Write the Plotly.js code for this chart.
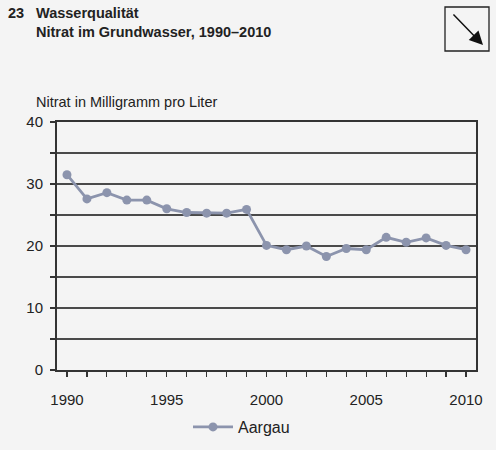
<!DOCTYPE html>
<html>
<head>
<meta charset="utf-8">
<script src="https://cdn.plot.ly/plotly-3.0.1.min.js"></script>
<style>
html,body{margin:0;padding:0;background:#f4f4f4;}
#chart{width:496px;height:450px;}
</style>
</head>
<body>
<div id="chart"></div>
<script>
const years = [1990,1991,1992,1993,1994,1995,1996,1997,1998,1999,2000,2001,2002,2003,2004,2005,2006,2007,2008,2009,2010];
const aargau = [31.5,27.6,28.6,27.4,27.4,26.0,25.4,25.3,25.3,25.9,20.1,19.4,20.0,18.3,19.6,19.4,21.4,20.6,21.3,20.1,19.4];
const seriesName = 'Aargau';
const xTickVals = years;
const xTickText = years.map(y => (y % 5 === 0 ? String(y) : ''));
const yTickVals = [0,5,10,15,20,25,30,35,40];
const yTickText = ['0','','10','','20','','30','','40'];
const titleNumber = '23';
const titleLine1 = 'Wasserqualität';
const titleLine2 = 'Nitrat im Grundwasser, 1990–2010';
const yAxisLabel = 'Nitrat in Milligramm pro Liter';

const W = 496, H = 450;
const L = 57, R = 20, T = 122, B = 80;
const pw = W - L - R, ph = H - T - B;
const px = x => (x - L) / pw;
const py = y => (H - B - y) / ph;

const lineColor = '#8c94ad';
const font = 'Liberation Sans, Arial, Helvetica, sans-serif';

const trace = {
  x: years, y: aargau, name: seriesName,
  type: 'scatter', mode: 'lines+markers',
  line: {color: lineColor, width: 2.8},
  marker: {color: lineColor, size: 9}
};

const layout = {
  width: W, height: H,
  margin: {l: L, r: R, t: T, b: B, pad: 0, autoexpand: false},
  paper_bgcolor: '#f4f4f4', plot_bgcolor: '#f4f4f4',
  font: {family: font, color: '#222', size: 14},
  showlegend: true,
  legend: {orientation: 'h', x: px(188), xanchor: 'left', y: py(427), yanchor: 'middle',
           itemwidth: 40,
           font: {size: 16, color: '#222'}, bgcolor: 'rgba(0,0,0,0)'},
  xaxis: {
    range: [1989.5, 2010.5], tickvals: xTickVals, ticktext: xTickText,
    ticks: 'outside', ticklen: 5, tickcolor: '#333', tickwidth: 1.2,
    showline: true, linecolor: '#333', linewidth: 2, mirror: true,
    showgrid: false, zeroline: false, ticklabelstandoff: 10,
    tickfont: {size: 15, color: '#222'}
  },
  yaxis: {
    range: [0, 40], tickvals: yTickVals, ticktext: yTickText,
    ticks: 'outside', ticklen: 5, tickcolor: '#333', tickwidth: 1.2,
    showline: true, linecolor: '#333', linewidth: 2, mirror: true,
    showgrid: true, gridcolor: '#4a4a4a', gridwidth: 1.6, zeroline: false,
    ticklabelstandoff: 4,
    tickfont: {size: 15, color: '#222'}
  },
  annotations: [
    {xref: 'paper', yref: 'paper', x: px(6), y: py(13), xanchor: 'left', yanchor: 'middle',
     text: '<b>' + titleNumber + '</b>', showarrow: false, font: {size: 14.5, color: '#222'}},
    {xref: 'paper', yref: 'paper', x: px(34), y: py(13), xanchor: 'left', yanchor: 'middle',
     text: '<b>' + titleLine1 + '</b>', showarrow: false, font: {size: 14.5, color: '#222'}},
    {xref: 'paper', yref: 'paper', x: px(34), y: py(32), xanchor: 'left', yanchor: 'middle',
     text: '<b>' + titleLine2 + '</b>', showarrow: false, font: {size: 14.5, color: '#222'}},
    {xref: 'paper', yref: 'paper', x: px(34), y: py(102), xanchor: 'left', yanchor: 'middle',
     text: yAxisLabel, showarrow: false, font: {size: 14.5, color: '#222'}},
    {xref: 'paper', yref: 'paper', x: px(483), y: py(45), axref: 'pixel', ayref: 'pixel',
     ax: -31, ay: -32, text: '', showarrow: true, arrowhead: 2, arrowsize: 1.8,
     arrowwidth: 1.5, arrowcolor: '#111'}
  ],
  shapes: [
    {type: 'rect', xref: 'paper', yref: 'paper', x0: px(445), x1: px(489), y0: py(7), y1: py(51),
     line: {color: '#222', width: 1.3}, fillcolor: 'rgba(0,0,0,0)'}
  ]
};

Plotly.newPlot('chart', [trace], layout, {displayModeBar: false, staticPlot: true});
</script>
</body>
</html>
